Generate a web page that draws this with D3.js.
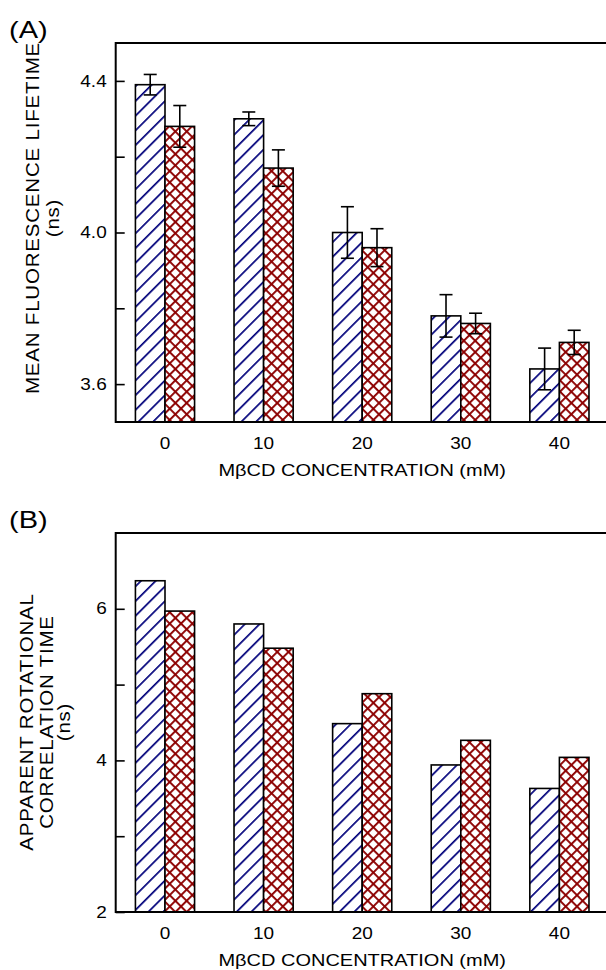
<!DOCTYPE html>
<html lang="en">
<head>
    <meta charset="UTF-8">
    <title>MBCD lifetime and correlation time</title>
    <script src="https://d3js.org/d3.v7.min.js"></script>
    <style>
        body { margin: 0; background: #fff; }
        svg { display: block; font-family: "Liberation Sans", Arial, sans-serif; }
        .tick text { fill: #000; }
    </style>
</head>
<body>
    <div id="container"></div>
    <script>
        const width = 606;
        const height = 970;
        const squash = 0.85; // the original lettering is wide and a bit flat

        // data
        const concentrations = ["0", "10", "20", "30", "40"];
        const lifetimeHatched = [4.39, 4.30, 4.00, 3.78, 3.64];
        const lifetimeHatchedErr = [0.027, 0.018, 0.068, 0.056, 0.055];
        const lifetimeCross = [4.28, 4.17, 3.96, 3.76, 3.71];
        const lifetimeCrossErr = [0.055, 0.048, 0.050, 0.027, 0.032];
        const rotHatched = [6.37, 5.80, 4.485, 3.94, 3.63];
        const rotCross = [5.97, 5.48, 4.88, 4.265, 4.04];

        const lifetimeTicks = [3.6, 3.8, 4.0, 4.2, 4.4];
        const lifetimeLabels = ["3.6", "", "4.0", "", "4.4"];
        const rotTicks = [2, 3, 4, 5, 6];
        const rotLabels = ["2", "", "4", "", "6"];

        const svg = d3.select("#container").append("svg")
            .attr("width", width)
            .attr("height", height);

        // hatch patterns
        const defs = svg.append("defs");
        const hatch = defs.append("pattern")
            .attr("id", "hatch")
            .attr("patternUnits", "userSpaceOnUse")
            .attr("width", 10.4).attr("height", 10.4)
            .attr("patternTransform", "rotate(45)");
        hatch.append("rect").attr("width", 10.4).attr("height", 10.4).attr("fill", "#fff");
        hatch.append("line")
            .attr("x1", 0).attr("y1", 0).attr("x2", 0).attr("y2", 10.4)
            .attr("stroke", "#00007a").attr("stroke-width", 3.4);

        const cross = defs.append("pattern")
            .attr("id", "cross")
            .attr("patternUnits", "userSpaceOnUse")
            .attr("width", 8).attr("height", 8)
            .attr("patternTransform", "rotate(45)");
        cross.append("rect").attr("width", 8).attr("height", 8).attr("fill", "#fff");
        cross.append("line")
            .attr("x1", 0).attr("y1", 0).attr("x2", 0).attr("y2", 8)
            .attr("stroke", "#8c0000").attr("stroke-width", 3.8);
        cross.append("line")
            .attr("x1", 0).attr("y1", 0).attr("x2", 8).attr("y2", 0)
            .attr("stroke", "#8c0000").attr("stroke-width", 3.8);

        const left = 115.7;
        const plotW = 493;
        const plotH = 379;

        const x = d3.scaleBand()
            .domain(concentrations)
            .range([left, left + plotW])
            .paddingInner(0.4)
            .paddingOuter(0.2);
        const xs = d3.scaleBand()
            .domain(["hatch", "cross"])
            .range([0, x.bandwidth()]);

        function drawPanel(opts) {
            const top = opts.top;
            const y = d3.scaleLinear().domain(opts.domain).range([top + plotH, top]);
            const g = svg.append("g");

            const rows = concentrations.map((c, i) => [
                { c, key: "hatch", v: opts.hatched[i], e: opts.hatchedErr ? opts.hatchedErr[i] : null },
                { c, key: "cross", v: opts.cross[i], e: opts.crossErr ? opts.crossErr[i] : null }
            ]).flat();

            g.selectAll("rect.bar")
                .data(rows)
                .join("rect")
                .attr("class", "bar")
                .attr("x", d => x(d.c) + xs(d.key))
                .attr("width", xs.bandwidth())
                .attr("y", d => y(d.v))
                .attr("height", d => y(opts.domain[0]) - y(d.v))
                .attr("fill", d => `url(#${d.key})`)
                .attr("stroke", "#000")
                .attr("stroke-width", 1.6);

            // error bars
            const eb = g.selectAll("g.err")
                .data(rows.filter(d => d.e != null))
                .join("g")
                .attr("class", "err")
                .attr("stroke", "#000")
                .attr("stroke-width", 1.6);
            const cx = d => x(d.c) + xs(d.key) + xs.bandwidth() / 2;
            eb.append("line")
                .attr("x1", cx).attr("x2", cx)
                .attr("y1", d => y(d.v + d.e)).attr("y2", d => y(d.v - d.e));
            eb.append("line")
                .attr("x1", d => cx(d) - 6.5).attr("x2", d => cx(d) + 6.5)
                .attr("y1", d => y(d.v + d.e)).attr("y2", d => y(d.v + d.e));
            eb.append("line")
                .attr("x1", d => cx(d) - 6.5).attr("x2", d => cx(d) + 6.5)
                .attr("y1", d => y(d.v - d.e)).attr("y2", d => y(d.v - d.e));

            // y axis, ticks point inward
            const yAxis = g.append("g")
                .attr("transform", `translate(${left},0)`)
                .call(d3.axisLeft(y)
                    .tickValues(opts.ticks)
                    .tickFormat((d, i) => opts.labels[i])
                    .tickSize(-9)
                    .tickPadding(9));
            yAxis.select(".domain").remove();
            yAxis.selectAll(".tick line").attr("stroke", "#000").attr("stroke-width", 1.6);
            yAxis.selectAll("text")
                .attr("font-size", 19).attr("font-family", null)
                .attr("transform", `scale(1,${squash})`);

            // x axis labels
            const xAxis = g.append("g")
                .attr("transform", `translate(0,${top + plotH})`)
                .call(d3.axisBottom(x).tickSize(0).tickPadding(27 / squash - 13.5));
            xAxis.select(".domain").remove();
            xAxis.selectAll("text")
                .attr("font-size", 19).attr("font-family", null)
                .attr("transform", `scale(1,${squash})`);

            // frame: left, top, bottom (right side runs off the page)
            g.append("path")
                .attr("d", `M${width + 10},${top}H${left}V${top + plotH}H${width + 10}`)
                .attr("fill", "none")
                .attr("stroke", "#000")
                .attr("stroke-width", 2);

            svg.append("text")
                .attr("transform", `translate(${x("20") + x.bandwidth() / 2},${top + plotH + 54}) scale(1,${squash})`)
                .attr("text-anchor", "middle")
                .attr("font-size", 20)
                .text("M\u03B2CD CONCENTRATION (mM)");

            svg.append("text")
                .attr("transform", `translate(9,${top - 5}) scale(1,${squash})`)
                .attr("font-size", 29)
                .text(opts.panel);

            const cy = top + opts.titleCenter;
            opts.title.forEach((t, i) => {
                svg.append("text")
                    .attr("transform", `translate(${opts.titleX[i]},${cy}) rotate(-90) scale(1,${squash})`)
                    .attr("text-anchor", "middle")
                    .attr("font-size", 20.5)
                    .attr("letter-spacing", 0.8)
                    .text(t);
            });
        }

        drawPanel({
            top: 43,
            domain: [3.5, 4.5],
            ticks: lifetimeTicks,
            labels: lifetimeLabels,
            hatched: lifetimeHatched,
            hatchedErr: lifetimeHatchedErr,
            cross: lifetimeCross,
            crossErr: lifetimeCrossErr,
            panel: "(A)",
            title: ["MEAN FLUORESCENCE LIFETIME", "(ns)"],
            titleX: [39, 59],
            titleCenter: 175
        });

        drawPanel({
            top: 533,
            domain: [2, 7],
            ticks: rotTicks,
            labels: rotLabels,
            hatched: rotHatched,
            cross: rotCross,
            panel: "(B)",
            title: ["APPARENT ROTATIONAL", "CORRELATION TIME", "(ns)"],
            titleX: [33, 53, 70],
            titleCenter: 189
        });
    </script>
</body>
</html>
